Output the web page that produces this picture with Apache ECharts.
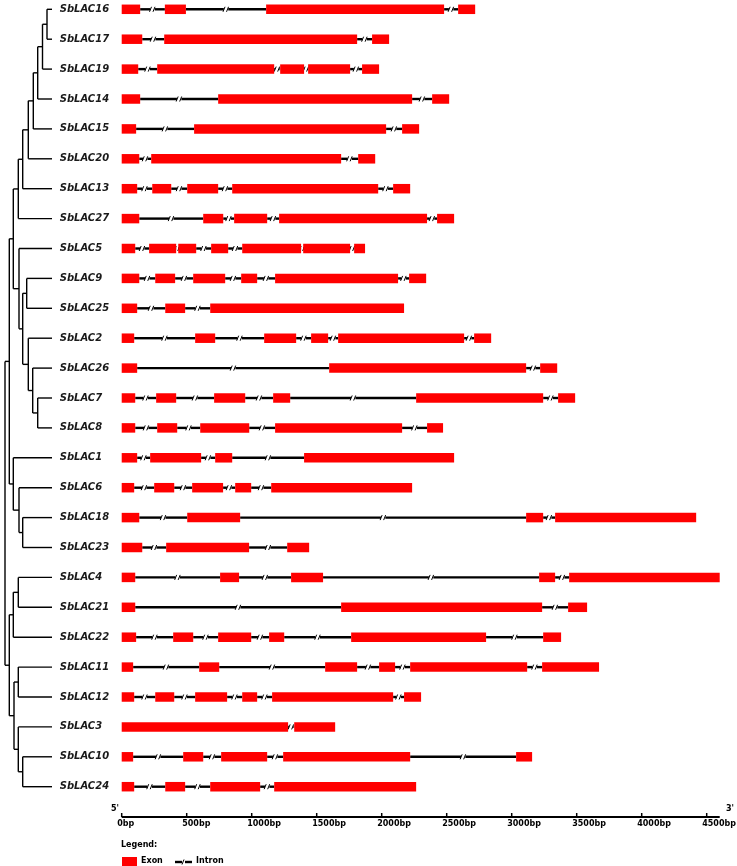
<!DOCTYPE html>
<html>
<head>
<meta charset="utf-8">
<script src="https://cdn.jsdelivr.net/npm/echarts/dist/echarts.min.js"></script>
<style>
html,body{margin:0;padding:0;background:#fff;}
#jiegou{width:737px;height:866px;}
</style>
</head>
<body>
<div id="jiegou"></div>
<script>
// gene names, top to bottom
var genes = ['SbLAC16','SbLAC17','SbLAC19','SbLAC14','SbLAC15','SbLAC20','SbLAC13','SbLAC27',
  'SbLAC5','SbLAC9','SbLAC25','SbLAC2','SbLAC26','SbLAC7','SbLAC8','SbLAC1','SbLAC6','SbLAC18',
  'SbLAC23','SbLAC4','SbLAC21','SbLAC22','SbLAC11','SbLAC12','SbLAC3','SbLAC10','SbLAC24'];

// exon start/end (bp), introns are the gaps between them
var exons = [
  [[0,142],[332,494],[1111,2480],[2588,2719]],
  [[0,158],[327,1811],[1926,2057]],
  [[0,127],[273,1173],[1219,1403],[1434,1757],[1849,1980]],
  [[0,142],[742,2234],[2388,2519]],
  [[0,111],[557,2034],[2157,2288]],
  [[0,135],[227,1688],[1819,1950]],
  [[0,119],[235,381],[504,742],[850,1973],[2088,2219]],
  [[0,135],[627,781],[865,1119],[1211,2349],[2426,2557]],
  [[0,104],[211,419],[435,573],[688,819],[927,1380],[1396,1757],[1788,1872]],
  [[0,135],[258,411],[550,796],[919,1042],[1180,2126],[2211,2342]],
  [[0,119],[335,488],[681,2172]],
  [[0,96],[565,719],[1096,1342],[1457,1588],[1665,2634],[2711,2842]],
  [[0,119],[1596,3111],[3219,3350]],
  [[0,104],[265,419],[711,950],[1165,1296],[2265,3242],[3357,3488]],
  [[0,104],[273,427],[604,981],[1180,2157],[2349,2472]],
  [[0,119],[219,611],[719,850],[1403,2557]],
  [[0,96],[250,404],[542,780],[873,996],[1150,2234]],
  [[0,135],[504,911],[3111,3242],[3334,4419]],
  [[0,158],[342,980],[1273,1442]],
  [[0,104],[757,903],[1303,1549],[3211,3334],[3442,4600]],
  [[0,104],[1688,3234],[3434,3580]],
  [[0,111],[396,550],[742,996],[1134,1250],[1765,2803],[3242,3380]],
  [[0,88],[596,750],[1565,1811],[1980,2103],[2219,3119],[3234,3672]],
  [[0,96],[258,404],[565,811],[927,1042],[1157,2088],[2172,2303]],
  [[0,1280],[1327,1642]],
  [[0,88],[473,627],[765,1119],[1242,2219],[3034,3157]],
  [[0,96],[335,488],[681,1065],[1173,2265]]
];

// scale ticks (bp)
var bpTicks = [0,500,1000,1500,2000,2500,3000,3500,4000,4500];
var bpMax = 4600;

// tree: x = node depth on the tree axis, leaves end at 52
var tree = {x:5, c:[
  {x:9.3, c:[
    {x:13.3, c:[
      {x:18.3, c:[
        {x:22.7, c:[
          {x:28.3, c:[
            {x:33.3, c:[
              {x:37.7, c:[
                {x:42.5, c:[{x:47, c:['SbLAC16','SbLAC17']}, 'SbLAC19']},
                'SbLAC14']},
              'SbLAC15']},
            'SbLAC20']},
          'SbLAC13']},
        'SbLAC27']},
      {x:19, c:[
        'SbLAC5',
        {x:22.7, c:[
          {x:26.7, c:['SbLAC9','SbLAC25']},
          {x:28.3, c:['SbLAC2', {x:32.7, c:['SbLAC26', {x:37.7, c:['SbLAC7','SbLAC8']}]}]}
        ]}
      ]}
    ]},
    {x:13.3, c:['SbLAC1', {x:19, c:['SbLAC6', {x:22.7, c:['SbLAC18','SbLAC23']}]}]}
  ]},
  {x:9.3, c:[
    {x:13.3, c:[{x:18.3, c:['SbLAC4','SbLAC21']}, 'SbLAC22']},
    {x:14, c:[
      {x:18.3, c:['SbLAC11','SbLAC12']},
      {x:18.3, c:['SbLAC3', {x:22.7, c:['SbLAC10','SbLAC24']}]}
    ]}
  ]}
]};
var leafX = 52;

// rows: first centre at 9.3px, 29.9px apart; scale bar sits at 817px inside the grid
var rowH = 29.9;
var gridTop = 9.3;
var gridH = 850 - gridTop;
var rowMax = gridH / rowH;
var scaleRow = (817 - gridTop) / rowH;

function renderGene(params, api) {
  var idx = api.value(0);
  var ex = exons[idx];
  var kids = [];
  var h = 9.5;
  // introns with break mark
  for (var i = 0; i < ex.length - 1; i++) {
    var a = api.coord([ex[i][1], idx]);
    var b = api.coord([ex[i + 1][0], idx]);
    var m = (a[0] + b[0]) / 2, y = a[1];
    kids.push({type:'line', shape:{x1:a[0], y1:y, x2:m - 2.2, y2:y}, style:{stroke:'#000', lineWidth:2.4}});
    kids.push({type:'line', shape:{x1:m + 2.2, y1:y, x2:b[0], y2:y}, style:{stroke:'#000', lineWidth:2.4}});
    kids.push({type:'line', shape:{x1:m - 3, y1:y + 2.5, x2:m - 1, y2:y - 2.5}, style:{stroke:'#000', lineWidth:1}});
    kids.push({type:'line', shape:{x1:m + 0.5, y1:y + 2.5, x2:m + 2.5, y2:y - 2.5}, style:{stroke:'#000', lineWidth:1}});
  }
  for (var j = 0; j < ex.length; j++) {
    var p1 = api.coord([ex[j][0], idx]);
    var p2 = api.coord([ex[j][1], idx]);
    kids.push({type:'rect', shape:{x:p1[0], y:p1[1] - h / 2, width:p2[0] - p1[0], height:h},
      style:{fill:'#ff0000'}});
  }
  return {type:'group', children:kids};
}

// bp scale: line, upward ticks and labels, placed by the x scale
function renderScale(params, api) {
  var v = api.value(0);
  var kids = [];
  var t = api.coord([v, scaleRow]);
  if (params.dataIndex === 0) {
    var e = api.coord([bpMax, scaleRow]);
    kids.push({type:'rect', shape:{x:t[0], y:t[1] - 1, width:e[0] - t[0], height:2}, style:{fill:'#000'}});
  }
  kids.push({type:'rect', shape:{x:t[0] - 0.75, y:t[1] - 4, width:1.5, height:4}, style:{fill:'#000'}});
  kids.push({type:'text', x:t[0] - 4.5, y:t[1] + 2.5,
    style:{text:v + 'bp', fill:'#000', font:'bold 8px "DejaVu Sans"', align:'left', verticalAlign:'top'}});
  return {type:'group', children:kids};
}

function renderTree(params, api) {
  var kids = [];
  var ln = function (x1, y1, x2, y2) {
    var p = api.coord([x1, y1]), q = api.coord([x2, y2]);
    kids.push({type:'line', shape:{x1:p[0], y1:p[1], x2:q[0], y2:q[1]}, style:{stroke:'#000', lineWidth:1.4}});
  };
  // returns row position of node
  var walk = function (node) {
    var ys = [];
    node.c.forEach(function (ch) {
      var cy, cx;
      if (typeof ch === 'string') {
        cy = genes.indexOf(ch); cx = leafX;
      } else {
        cy = walk(ch); cx = ch.x;
      }
      ln(node.x, cy, cx, cy);
      ys.push(cy);
    });
    var lo = Math.min.apply(null, ys), hi = Math.max.apply(null, ys);
    ln(node.x, lo, node.x, hi);
    return (lo + hi) / 2;
  };
  walk(tree);
  return {type:'group', children:kids};
}

var myChart = echarts.init(document.getElementById('jiegou'));
var option = {
  animation: false,
  grid: [
    {left: 121.7, top: gridTop, width: 598, height: gridH, outerBoundsMode: 'none'},
    {left: 0, top: gridTop, width: leafX, height: gridH, outerBoundsMode: 'none'}
  ],
  xAxis: [
    {type: 'value', gridIndex: 0, min: 0, max: bpMax, show: false},
    {type: 'value', gridIndex: 1, min: 0, max: leafX, show: false}
  ],
  yAxis: [
    {
      type: 'value', gridIndex: 0, inverse: true, min: 0, max: rowMax, interval: 1,
      axisLine: {show: false}, axisTick: {show: false}, splitLine: {show: false},
      axisLabel: {
        align: 'left', margin: 62, color: '#1a1a1a',
        fontFamily: 'DejaVu Sans', fontStyle: 'italic', fontWeight: 'bold', fontSize: 10,
        formatter: function (v) { return genes[v] || ''; }
      }
    },
    {type: 'value', gridIndex: 1, inverse: true, min: 0, max: rowMax, show: false}
  ],
  graphic: [
    {type:'text', left: 111, top: 805, style:{text:"5'", font:'bold 8px "DejaVu Sans"', fill:'#000'}},
    {type:'text', left: 726, top: 805, style:{text:"3'", font:'bold 8px "DejaVu Sans"', fill:'#000'}},
    {type:'text', left: 121, top: 841, style:{text:'Legend:', font:'bold 8px "DejaVu Sans"', fill:'#000'}},
    {type:'rect', left: 122, top: 857, shape:{width: 15, height: 9}, style:{fill:'#ff0000'}},
    {type:'text', left: 141, top: 857, style:{text:'Exon', font:'bold 8px "DejaVu Sans"', fill:'#000'}},
    {type:'line', shape:{x1:175, y1:862, x2:182, y2:862}, style:{stroke:'#000', lineWidth:2.4}},
    {type:'line', shape:{x1:185, y1:862, x2:192, y2:862}, style:{stroke:'#000', lineWidth:2.4}},
    {type:'line', shape:{x1:182, y1:864.5, x2:184, y2:859.5}, style:{stroke:'#000', lineWidth:1}},
    {type:'text', left: 196, top: 857, style:{text:'Intron', font:'bold 8px "DejaVu Sans"', fill:'#000'}}
  ],
  series: [
    {
      type: 'custom', name: 'gene', xAxisIndex: 0, yAxisIndex: 0,
      renderItem: renderGene,
      data: genes.map(function (g, i) { return [i]; }),
      clip: false
    },
    {
      type: 'custom', name: 'scale', xAxisIndex: 0, yAxisIndex: 0,
      renderItem: renderScale,
      data: bpTicks.map(function (v) { return [v]; }),
      clip: false, z: 10
    },
    {
      type: 'custom', name: 'tree', xAxisIndex: 1, yAxisIndex: 1,
      renderItem: renderTree,
      data: [[0]],
      clip: false
    }
  ]
};
myChart.setOption(option);

window.onresize = function () {
  myChart.resize();
};
</script>
</body>
</html>
